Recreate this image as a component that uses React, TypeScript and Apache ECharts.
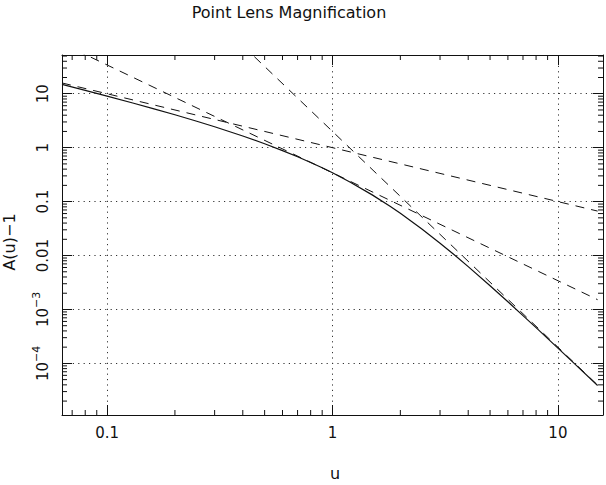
import { useEffect, useRef } from 'react';
import * as echarts from 'echarts';

// Axis ranges (log scales)
const U_MIN = 0.0631;
const U_MAX = 15.85;
const A_MIN = 1.104e-5;
const A_MAX = 52.3;

// Point-lens magnification excess A(u) - 1
const uValues = [
  0.0631, 0.08, 0.1, 0.13, 0.16, 0.2, 0.25, 0.3, 0.4, 0.5, 0.6, 0.7, 0.8, 0.9, 1,
  1.2, 1.5, 1.8, 2, 2.5, 3, 3.5, 4, 5, 6, 7, 8, 10, 12, 15,
];
const excessMagnification = [
  14.87, 11.53, 9.037, 6.741, 5.31, 4.075, 3.093, 2.445, 1.648, 1.183, 0.8837, 0.6787,
  0.532, 0.4236, 0.3416, 0.2291, 0.1333, 0.08191, 0.06066, 0.03075, 0.01695, 0.01,
  0.006231, 0.002755, 0.001388, 0.0007698, 0.0004596, 0.0001923, 0.00009384, 0.00003881,
];

// Straight-line approximations (endpoints)
const smallUAsymptote = [[0.0631, 15.85], [15, 0.0667]];
const slopeTwoLine = [[0.0631, 85.8], [15, 0.001518]];
const largeUAsymptote = [[0.4, 78.1], [15, 3.95e-5]];

// Tick positions and labels
const uMajorTicks = [0.1, 1, 10];
const uTickLabels = ['0.1', '1', '10'];
const uMinorTicks = [
  0.07, 0.08, 0.09, 0.2, 0.3, 0.4, 0.5, 0.6, 0.7, 0.8, 0.9, 2, 3, 4, 5, 6, 7, 8, 9,
];
const aMajorTicks = [1e-4, 1e-3, 0.01, 0.1, 1, 10];
const aTickLabels = ['10{sup|\u22124}', '10{sup|\u22123}', '0.01', '0.1', '1', '10'];
const aMinorTicks = [
  2e-5, 3e-5, 4e-5, 5e-5, 6e-5, 7e-5, 8e-5, 9e-5,
  2e-4, 3e-4, 4e-4, 5e-4, 6e-4, 7e-4, 8e-4, 9e-4,
  2e-3, 3e-3, 4e-3, 5e-3, 6e-3, 7e-3, 8e-3, 9e-3,
  0.02, 0.03, 0.04, 0.05, 0.06, 0.07, 0.08, 0.09,
  0.2, 0.3, 0.4, 0.5, 0.6, 0.7, 0.8, 0.9,
  2, 3, 4, 5, 6, 7, 8, 9,
  20, 30, 40, 50,
];

const FONT = 'DejaVu Sans';
const INK = '#111';
const MINOR_LEN = 5;
const MAJOR_LEN = 10;

function labelFor(v: number, ticks: number[], labels: string[]): string {
  const lv = Math.log10(v);
  for (let i = 0; i < ticks.length; i++) {
    if (Math.abs(lv - Math.log10(ticks[i])) < 1e-6) return labels[i];
  }
  return '';
}

const tickStyle = { stroke: INK, lineWidth: 1 };

function uTickRenderer(params: any, api: any) {
  const v = api.value(0);
  const b = api.coord([v, A_MIN]);
  const t = api.coord([v, A_MAX]);
  return {
    type: 'group',
    children: [
      { type: 'line', shape: { x1: b[0], y1: b[1], x2: b[0], y2: b[1] - MINOR_LEN }, style: tickStyle },
      { type: 'line', shape: { x1: t[0], y1: t[1], x2: t[0], y2: t[1] + MINOR_LEN }, style: tickStyle },
    ],
  };
}

function aTickRenderer(params: any, api: any) {
  const v = api.value(1);
  const l = api.coord([U_MIN, v]);
  const r = api.coord([U_MAX, v]);
  return {
    type: 'group',
    children: [
      { type: 'line', shape: { x1: l[0], y1: l[1], x2: l[0] + MINOR_LEN, y2: l[1] }, style: tickStyle },
      { type: 'line', shape: { x1: r[0], y1: r[1], x2: r[0] - MINOR_LEN, y2: r[1] }, style: tickStyle },
    ],
  };
}

export default function App() {
  const ref = useRef<HTMLDivElement>(null);

  useEffect(() => {
    if (!ref.current) return;
    const chart = echarts.init(ref.current, undefined, { renderer: 'svg' });

    const frameAxis = {
      type: 'log' as const,
      logBase: 10,
      axisLine: { show: true, lineStyle: { color: INK, width: 1 } },
      axisTick: { show: true, inside: true, length: MAJOR_LEN, lineStyle: { color: INK, width: 1 } },
      minorTick: { show: false },
      splitLine: { show: false },
    };
    const gridDots = { show: true, lineStyle: { color: '#333', width: 1, type: [1.2, 4.2] } };

    const dashed = { color: INK, width: 1, type: [9, 7] };

    chart.setOption({
      animation: false,
      backgroundColor: '#fff',
      textStyle: { fontFamily: FONT },
      grid: { left: 62, top: 55, width: 545, height: 360 },
      xAxis: [
        {
          ...frameAxis,
          position: 'bottom',
          min: U_MIN,
          max: U_MAX,
          splitLine: gridDots,
          axisLabel: {
            show: true,
            margin: 10,
            fontSize: 15,
            color: INK,
            fontFamily: FONT,
            formatter: (v: number) => labelFor(v, uMajorTicks, uTickLabels),
          },
        },
        {
          ...frameAxis,
          position: 'top',
          min: U_MIN,
          max: U_MAX,
          axisLabel: { show: false },
        },
      ],
      yAxis: [
        {
          ...frameAxis,
          position: 'left',
          min: A_MIN,
          max: A_MAX,
          splitLine: gridDots,
          axisLabel: {
            show: true,
            rotate: 90,
            margin: 7,
            fontSize: 15,
            lineHeight: 24,
            color: INK,
            fontFamily: FONT,
            formatter: (v: number) => labelFor(v, aMajorTicks, aTickLabels),
            rich: {
              sup: { fontSize: 11, lineHeight: 11, verticalAlign: 'top', color: INK, fontFamily: FONT },
            },
          },
        },
        {
          ...frameAxis,
          position: 'right',
          min: A_MIN,
          max: A_MAX,
          axisLabel: { show: false },
        },
      ],
      graphic: [
        {
          type: 'text',
          x: 289,
          y: 12,
          style: {
            text: 'Point Lens Magnification',
            fontFamily: FONT,
            fontSize: 16,
            fill: INK,
            textAlign: 'center',
            textVerticalAlign: 'middle',
          },
        },
        {
          type: 'text',
          x: 335,
          y: 473,
          style: {
            text: 'u',
            fontFamily: FONT,
            fontSize: 16,
            fill: INK,
            textAlign: 'center',
            textVerticalAlign: 'middle',
          },
        },
        {
          type: 'text',
          x: 9,
          y: 242,
          rotation: Math.PI / 2,
          style: {
            text: 'A(u)\u22121',
            fontFamily: FONT,
            fontSize: 16,
            fill: INK,
            textAlign: 'center',
            textVerticalAlign: 'middle',
          },
        },
      ],
      series: [
        {
          name: 'A(u)-1',
          type: 'line',
          xAxisIndex: 0,
          yAxisIndex: 0,
          data: uValues.map((u, i) => [u, excessMagnification[i]]),
          showSymbol: false,
          symbol: 'none',
          lineStyle: { color: INK, width: 1.2 },
          silent: true,
        },
        {
          name: '1/u',
          type: 'line',
          data: smallUAsymptote,
          symbol: 'none',
          lineStyle: dashed,
          silent: true,
        },
        {
          name: 'u^-2',
          type: 'line',
          data: slopeTwoLine,
          symbol: 'none',
          lineStyle: dashed,
          silent: true,
        },
        {
          name: '2/u^4',
          type: 'line',
          data: largeUAsymptote,
          symbol: 'none',
          lineStyle: dashed,
          silent: true,
        },
        {
          type: 'custom',
          data: uMinorTicks.map((v) => [v, A_MIN]),
          renderItem: uTickRenderer,
          clip: false,
          silent: true,
        },
        {
          type: 'custom',
          data: aMinorTicks.map((v) => [U_MIN, v]),
          renderItem: aTickRenderer,
          clip: false,
          silent: true,
        },
      ],
    });

    return () => chart.dispose();
  }, []);

  return (
    <div
      ref={ref}
      style={{ position: 'fixed', left: 0, top: 0, width: 606, height: 485 }}
    />
  );
}
